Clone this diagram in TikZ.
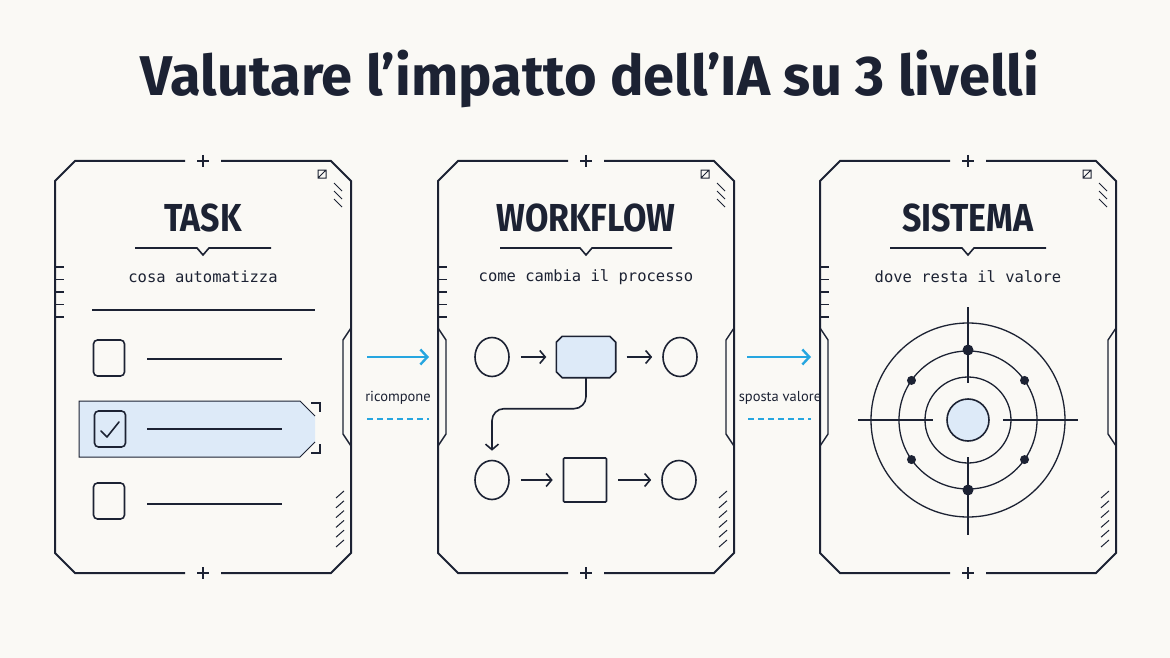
\documentclass[tikz,border=0pt]{standalone}
\usepackage{fontspec}
\setmainfont{PT Sans}
\newfontfamily\headfont{Fira Sans}
\newfontfamily\monofont{DejaVu Sans Mono}
\usepackage{tikz}
\usetikzlibrary{arrows.meta, positioning, shapes.geometric, calc}
\definecolor{inkdark}{RGB}{28,34,51}
\definecolor{paperbg}{RGB}{250,249,245}
\definecolor{hlblue}{RGB}{221,234,248}
\definecolor{flowcyan}{RGB}{38,166,224}
\newcommand{\narrow}[1]{\scalebox{0.87}[1]{#1}}
\tikzset{
  hudframe/.style={draw=inkdark, line width=2pt, line join=miter},
  thinline/.style={draw=inkdark, line width=1.6pt},
  fineline/.style={draw=inkdark, line width=1pt},
  titletext/.style={font=\headfont\bfseries\fontsize{56}{62}\selectfont, text=inkdark},
  headtext/.style={font=\headfont\bfseries\fontsize{39}{42}\selectfont, text=inkdark},
  subtext/.style={font=\monofont\fontsize{15.5}{18}\selectfont, text=inkdark},
  linktext/.style={font=\fontsize{14.5}{16}\selectfont, text=inkdark},
  chkbox/.style={draw=inkdark, line width=1.6pt, rounded corners=4pt,
    minimum width=31pt, minimum height=36pt, inner sep=0pt},
  flowcircle/.style={ellipse, draw=inkdark, line width=1.6pt,
    minimum width=34pt, minimum height=39pt, inner sep=0pt},
  procbox/.style={rectangle, minimum width=59pt, minimum height=41pt, inner sep=0pt},
  procedge/.style={draw=inkdark, fill=hlblue, line width=1.6pt},
  plainbox/.style={rectangle, draw=inkdark, line width=1.6pt, rounded corners=1pt,
    minimum width=43pt, minimum height=44pt, inner sep=0pt},
  flowarrow/.style={-{Straight Barb[length=5.5pt,width=13pt]}, line width=1.6pt,
    draw=inkdark, shorten <=11pt, shorten >=10pt},
  cyanarrow/.style={-{Straight Barb[length=7pt,width=15pt]}, line width=2.4pt, draw=flowcyan},
  cyandash/.style={draw=flowcyan, line width=1.2pt, dash pattern=on 6pt off 4pt},
  ringline/.style={draw=inkdark, line width=1.3pt},
  corecircle/.style={circle, draw=inkdark, fill=hlblue, line width=1.6pt,
    minimum size=42pt, inner sep=0pt}
}
% frame of one panel: #1 left x, #2 left bracket, #3 right bracket
\newcommand{\hudpanel}[3]{%
  \begin{scope}[xshift=#1pt]
    \draw[hudframe] (130,161) -- (20,161) -- (0,181) -- (0,553) -- (20,573) -- (130,573);
    \draw[hudframe] (166,573) -- (276,573) -- (296,553) -- (296,181) -- (276,161) -- (166,161);
    \draw[thinline] (142,161) -- (154,161) (148,155) -- (148,167);
    \draw[thinline] (142,573) -- (154,573) (148,567) -- (148,579);
    \foreach \k in {0,...,4} \draw[fineline, line width=1.4pt] (0,267+12.5*\k) -- (9,267+12.5*\k);
    \draw[fineline] (263,170) rectangle (271,178) (263,178) -- (271,170);
    \foreach \k in {0,1,2} \draw[fineline] (279,183+8*\k) -- (287,191+8*\k);
    \foreach \k in {0,...,5} \draw[fineline] (281,498+9.8*\k) -- (289,491+9.8*\k);
    \ifnum#2=1 \draw[fineline, line width=1.4pt] (0,328) -- (8,340) -- (8,434) -- (0,446); \fi
    \ifnum#3=1 \draw[fineline, line width=1.4pt] (296,328) -- (288,340) -- (288,434) -- (296,446); \fi
  \end{scope}}
% rule with a small notch under a header
\newcommand{\notchrule}[2]{%
  \draw[thinline] (#1-#2,248) -- (#1-6,248) -- (#1,255) -- (#1+6,248) -- (#1+#2,248);}
\begin{document}
\begin{tikzpicture}[x=1pt, y=-1pt]
  % canvas
  \fill[paperbg] (0,0) rectangle (1170,658);
  \useasboundingbox (0,0) rectangle (1170,658);

  % title
  \node[titletext] (title) at (590,79) {Valutare l’impatto dell’IA su 3 livelli};

  % three panels
  \hudpanel{55}{0}{1}
  \hudpanel{438}{1}{1}
  \hudpanel{820}{1}{1}

  % headers
  \node[headtext] (hTask) at (203,218) {\narrow{TASK}};
  \notchrule{203}{68}
  \node[subtext] (sTask) at (203,277) {cosa automatizza};
  \node[headtext] (hFlow) at (586,218) {\narrow{WORKFLOW}};
  \notchrule{586}{86}
  \node[subtext] (sFlow) at (586,277) {come cambia il processo};
  \node[headtext] (hSys) at (968,218) {\narrow{SISTEMA}};
  \notchrule{968}{78}
  \node[subtext] (sSys) at (968,277) {dove resta il valore};

  % Task: checklist
  \draw[thinline] (92,310) -- (315,310);
  \fill[hlblue] (79,401) -- (300,401) -- (315,416) -- (315,442) -- (300,457) -- (79,457) -- cycle;
  \draw[fineline] (315,416) -- (300,401) -- (79,401) -- (79,457) -- (300,457) -- (315,442);
  \draw[fineline, line width=1.4pt] (311,403) -- (320,403) -- (320,412) (320,444) -- (320,453) -- (311,453);
  \node[chkbox] (chk1) at (109,358) {};
  \node[chkbox] (chk2) at (110,429) {};
  \node[chkbox] (chk3) at (109,501) {};
  \draw[thinline, line cap=round, line join=round] (101,431) -- (107,437) -- (119,422);
  \draw[thinline] (147,359) -- (282,359);
  \draw[thinline] (147,429) -- (282,429);
  \draw[thinline] (147,504) -- (282,504);

  % Workflow: process graph
  \node[flowcircle] (in1) at (492,357) {};
  \node[procbox] (proc) at (586,357) {};
  \filldraw[procedge] ($(proc.north west)+(6,0)$) -- ($(proc.north east)+(-6,0)$)
    -- ($(proc.north east)+(0,6)$) -- ($(proc.south east)+(0,-6)$)
    -- ($(proc.south east)+(-6,0)$) -- ($(proc.south west)+(6,0)$)
    -- ($(proc.south west)+(0,-6)$) -- ($(proc.north west)+(0,6)$) -- cycle;
  \node[flowcircle] (out1) at (680,357) {};
  \node[flowcircle] (in2) at (492,480) {};
  \node[plainbox] (sq) at (585,480) {};
  \node[flowcircle] (out2) at (679,480) {};
  \draw[flowarrow] (in1) -- (proc);
  \draw[flowarrow] (proc) -- (out1);
  \draw[flowarrow] (in2) -- (sq);
  \draw[flowarrow] (sq) -- (out2);
  \draw[flowarrow, shorten <=0pt, shorten >=9pt, rounded corners=12pt]
    (proc.south) -- ++(0,31) -| (in2.north);

  % Sistema: target
  \node[corecircle] (core) at (968,420) {};
  \foreach \r in {43,69,97} \draw[ringline] (core.center) circle[radius=\r];
  \draw[ringline] (858,420) -- (933,420) (1003,420) -- (1078,420);
  \draw[ringline] (968,307) -- (968,383) (968,457) -- (968,535);
  \fill[inkdark] (968,350) circle[radius=5.5] (968,490) circle[radius=5.5];
  \foreach \a in {35,145,-35,-145} \fill[inkdark] ($(core.center)+(\a:69)$) circle[radius=4.5];

  % links between panels
  \coordinate (l1a) at (367,357);
  \coordinate (l1b) at (429,357);
  \coordinate (l2a) at (747,357);
  \coordinate (l2b) at (811,357);
  \draw[cyanarrow] (l1a) -- (l1b);
  \node[linktext] (lk1) at (398,398) {ricompone};
  \draw[cyandash] (367,419) -- (429,419);
  \draw[cyanarrow] (l2a) -- (l2b);
  \node[linktext] (lk2) at (780,398) {sposta valore};
  \draw[cyandash] (748,419) -- (811,419);
\end{tikzpicture}
\end{document}
